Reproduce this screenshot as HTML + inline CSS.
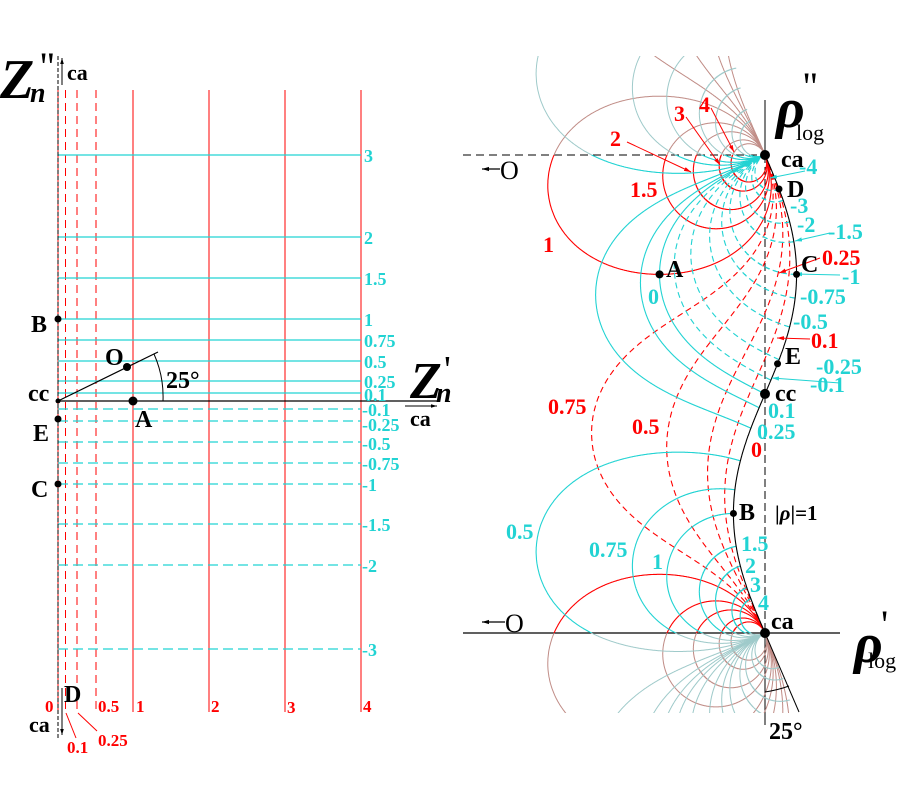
<!DOCTYPE html>
<html><head><meta charset="utf-8"><style>
html,body{margin:0;padding:0;background:#fff;width:900px;height:800px;overflow:hidden;}
svg{display:block;}
text{font-family:"Liberation Serif",serif;font-weight:bold;}
.c{fill:#22d3d3;} .r{fill:#f00;} .k{fill:#000;}
</style></head><body>
<svg id="s" width="900" height="800" viewBox="0 0 900 800" xmlns="http://www.w3.org/2000/svg">
<defs>
<clipPath id="band"><rect x="0" y="155" width="900" height="478"/></clipPath>
<clipPath id="fade"><rect x="0" y="56" width="900" height="99"/><rect x="0" y="633" width="900" height="80"/></clipPath>
<marker id="ar" viewBox="0 0 10 10" refX="10" refY="5" markerWidth="7" markerHeight="7" orient="auto"><path d="M0,2L10,5L0,8z" fill="#f00"/></marker>
<marker id="ac" viewBox="0 0 10 10" refX="10" refY="5" markerWidth="7" markerHeight="7" orient="auto"><path d="M0,2L10,5L0,8z" fill="#22d3d3"/></marker>
<marker id="ak" viewBox="0 0 10 10" refX="10" refY="5" markerWidth="6" markerHeight="6" orient="auto"><path d="M0,2L10,5L0,8z" fill="#000"/></marker>
</defs>
<g id="left">
<g stroke="#f00" stroke-width="1">
<line x1="58" y1="90" x2="58" y2="712"/>
<line x1="65.5" y1="90" x2="65.5" y2="712" stroke-dasharray="8,5"/>
<line x1="77" y1="90" x2="77" y2="712" stroke-dasharray="8,5"/>
<line x1="96" y1="90" x2="96" y2="712" stroke-dasharray="8,5"/>
<line x1="133" y1="90" x2="133" y2="712"/>
<line x1="209" y1="90" x2="209" y2="712"/>
<line x1="285" y1="90" x2="285" y2="712"/>
<line x1="361" y1="90" x2="361" y2="712"/>
</g>
<g stroke="#22d3d3" stroke-width="1.2">
<line x1="58" y1="155" x2="361" y2="155"/>
<line x1="58" y1="237" x2="361" y2="237"/>
<line x1="58" y1="278" x2="361" y2="278"/>
<line x1="58" y1="319" x2="361" y2="319"/>
<line x1="58" y1="340" x2="361" y2="340"/>
<line x1="58" y1="361" x2="361" y2="361"/>
<line x1="58" y1="381" x2="361" y2="381"/>
<line x1="58" y1="393" x2="361" y2="393"/>
<g stroke-dasharray="10,5">
<line x1="58" y1="409" x2="361" y2="409"/>
<line x1="58" y1="421" x2="361" y2="421"/>
<line x1="58" y1="442" x2="361" y2="442"/>
<line x1="58" y1="463" x2="361" y2="463"/>
<line x1="58" y1="484" x2="361" y2="484"/>
<line x1="58" y1="524" x2="361" y2="524"/>
<line x1="58" y1="565" x2="361" y2="565"/>
<line x1="58" y1="649" x2="361" y2="649"/>
</g></g>
<line x1="58" y1="56" x2="58" y2="740" stroke="#000" stroke-width="1" stroke-dasharray="4,2"/>
<line x1="58" y1="401" x2="440" y2="401" stroke="#000" stroke-width="1.2"/>
<line x1="62" y1="85" x2="62" y2="58" stroke="#000" stroke-width="1" marker-end="url(#ak)"/>
<line x1="62" y1="688" x2="62" y2="735" stroke="#000" stroke-width="1" marker-end="url(#ak)"/>
<line x1="405" y1="406" x2="437" y2="406" stroke="#000" stroke-width="1" marker-end="url(#ak)"/>
<line x1="58" y1="401" x2="158" y2="352" stroke="#000" stroke-width="1.2"/>
<path d="M154,354 A105,105 0 0 1 163,401" fill="none" stroke="#000" stroke-width="1"/>
<g fill="#000"><circle cx="58" cy="319" r="3.5"/><circle cx="58" cy="419" r="3.5"/><circle cx="58" cy="484" r="3.5"/><circle cx="58" cy="401" r="2.5"/><circle cx="127" cy="367" r="4"/><circle cx="133" cy="401" r="4.5"/></g>
<g class="c" style="font-size:18px">
<text x="364" y="162">3</text><text x="364" y="244">2</text><text x="364" y="285">1.5</text><text x="364" y="326">1</text><text x="364" y="347">0.75</text><text x="364" y="368">0.5</text><text x="364" y="388">0.25</text><text x="364" y="401">0.1</text>
<text x="362" y="416">-0.1</text><text x="362" y="431">-0.25</text><text x="362" y="450">-0.5</text><text x="362" y="470">-0.75</text><text x="362" y="491">-1</text><text x="362" y="531">-1.5</text><text x="362" y="572">-2</text><text x="362" y="656">-3</text>
</g>
<g class="r" style="font-size:17px">
<text x="45" y="712">0</text><text x="98" y="712">0.5</text><text x="136" y="712">1</text><text x="211" y="712">2</text><text x="287" y="713">3</text><text x="363" y="712">4</text>
<text x="67" y="753">0.1</text><text x="98" y="746">0.25</text>
</g>
<line x1="66" y1="713" x2="76" y2="738" stroke="#f00" stroke-width="1"/>
<line x1="78" y1="713" x2="97" y2="731" stroke="#f00" stroke-width="1"/>
<g class="k">
<text x="0" y="98" style="font-size:56px;font-style:italic">Z</text><text x="40" y="80" style="font-size:40px;font-weight:normal">''</text><text x="30" y="102" style="font-size:28px;font-style:italic">n</text>
<text x="67" y="80" style="font-size:22px">ca</text>
<text x="410" y="398" style="font-size:52px;font-style:italic">Z</text><text x="444" y="382" style="font-size:38px;font-weight:normal">'</text><text x="436" y="402" style="font-size:28px;font-style:italic">n</text>
<text x="410" y="426" style="font-size:22px">ca</text>
<text x="28" y="401" style="font-size:24px">cc</text>
<text x="31" y="332" style="font-size:24px">B</text><text x="33" y="441" style="font-size:24px">E</text><text x="31" y="497" style="font-size:24px">C</text>
<text x="105" y="365" style="font-size:24px">O</text><text x="135" y="427" style="font-size:24px">A</text>
<text x="166" y="388" style="font-size:24px">25°</text>
<text x="64" y="702" style="font-size:24px">D</text><text x="29" y="732" style="font-size:22px">ca</text>
</g>
</g>
<g id="right">
<line x1="463" y1="155" x2="765" y2="155" stroke="#000" stroke-width="1" stroke-dasharray="8,5"/>
<line x1="463" y1="633" x2="840" y2="633" stroke="#000" stroke-width="1.2"/>
<line x1="765" y1="100" x2="765" y2="155" stroke="#000" stroke-width="1"/>
<line x1="765" y1="155" x2="765" y2="633" stroke="#000" stroke-width="1" stroke-dasharray="8,4"/>
<line x1="765" y1="633" x2="765" y2="725" stroke="#000" stroke-width="1"/>
<g id="fadeg" clip-path="url(#fade)" fill="none" stroke-width="1"></g>
<g id="bandg" clip-path="url(#band)" fill="none" stroke-width="1.1"></g>
<line x1="765" y1="633" x2="799" y2="712" stroke="#000" stroke-width="1"/>
<path d="M765,692 Q778,690 789,686" fill="none" stroke="#000" stroke-width="1"/>
<line x1="500" y1="169" x2="482" y2="169" stroke="#000" stroke-width="1.2" marker-end="url(#ak)"/>
<line x1="505" y1="622" x2="482" y2="622" stroke="#000" stroke-width="1.2" marker-end="url(#ak)"/>
<g class="k"><text x="500" y="179" style="font-size:26px;font-weight:normal">O</text><text x="505" y="632" style="font-size:26px;font-weight:normal">O</text></g>
<g stroke="#f00" stroke-width="1" fill="none">
<line x1="627" y1="142" x2="691" y2="172" marker-end="url(#ar)"/>
<line x1="686" y1="117" x2="720" y2="165" marker-end="url(#ar)"/>
<line x1="711" y1="108" x2="734" y2="152" marker-end="url(#ar)"/>
<line x1="820" y1="258" x2="779" y2="273" marker-end="url(#ar)"/>
<line x1="810" y1="339" x2="777" y2="338" marker-end="url(#ar)"/>
</g>
<g stroke="#22d3d3" stroke-width="1" fill="none">
<line x1="805" y1="171" x2="770" y2="178" marker-end="url(#ac)"/>
<line x1="830" y1="233" x2="795" y2="241" marker-end="url(#ac)"/>
<line x1="840" y1="275" x2="795" y2="274" marker-end="url(#ac)"/>
<line x1="840" y1="383" x2="772" y2="378" marker-end="url(#ac)"/>
</g>
<g id="dots" fill="#000"></g>
<g class="r" style="font-size:22px">
<text x="610" y="146">2</text><text x="674" y="121">3</text><text x="699" y="112">4</text>
<text x="630" y="197">1.5</text><text x="543" y="252">1</text>
<text x="822" y="265">0.25</text><text x="811" y="348">0.1</text>
<text x="548" y="414">0.75</text><text x="632" y="434">0.5</text><text x="751" y="457">0</text>
</g>
<g class="c" style="font-size:22px">
<text x="799" y="174">-4</text><text x="790" y="213">-3</text><text x="797" y="232">-2</text><text x="828" y="239">-1.5</text>
<text x="842" y="284">-1</text><text x="800" y="304">-0.75</text><text x="793" y="329">-0.5</text><text x="816" y="374">-0.25</text><text x="810" y="392">-0.1</text>
<text x="768" y="418">0.1</text><text x="757" y="439">0.25</text><text x="648" y="304">0</text>
<text x="506" y="539">0.5</text><text x="589" y="557">0.75</text><text x="652" y="569">1</text>
<text x="741" y="551">1.5</text><text x="745" y="573">2</text><text x="750" y="592">3</text><text x="758" y="610">4</text>
</g>
<g class="k" style="font-size:24px">
<text x="781" y="167">ca</text><text x="787" y="197">D</text><text x="801" y="272">C</text><text x="666" y="277">A</text>
<text x="785" y="364">E</text><text x="775" y="401">cc</text><text x="739" y="520">B</text><text x="775" y="520" style="font-size:21px">|<tspan style="font-style:italic">ρ</tspan>|=1</text>
<text x="771" y="629">ca</text><text x="769" y="739">25°</text>
<text x="776" y="127" style="font-size:56px;font-style:italic">ρ</text><text x="803" y="100" style="font-size:40px;font-weight:normal">''</text><text x="796" y="140" style="font-size:22px;font-weight:normal">log</text>
<text x="854" y="662" style="font-size:56px;font-style:italic">ρ</text><text x="881" y="638" style="font-size:40px;font-weight:normal">'</text><text x="868" y="668" style="font-size:22px;font-weight:normal">log</text>
</g>
</g>
</svg>
<script>
(function(){
var NS="http://www.w3.org/2000/svg";
var X0=765,Y0=633,sx=70,sy=76.1,th=25*Math.PI/180,c=Math.cos(th),s=Math.sin(th),T=2*Math.PI;
function rho(a,b){var nr=a-c,ni=b-s,dr=a+c,di=b+s,d=dr*dr+di*di;var re=(nr*dr+ni*di)/d,im=(ni*dr-nr*di)/d;return [0.5*Math.log(re*re+im*im),Math.atan2(im,re)];}
function build(pts,refIdx){var out=[],prev=null;for(var i=0;i<pts.length;i++){var r=rho(pts[i][0],pts[i][1]);var a=r[1];if(prev!==null){while(a-prev>Math.PI)a-=T;while(a-prev<-Math.PI)a+=T;}prev=a;out.push([r[0],a]);}
var ref=out[refIdx][1];var sh=(((ref%T)+T)%T)-ref;for(i=0;i<out.length;i++)out[i][1]+=sh;return out;}
function d(out,k){var p="";for(var i=0;i<out.length;i++){var x=X0+sx*out[i][0],y=Y0-sy*(out[i][1]+k*T);p+=(i?"L":"M")+x.toFixed(1)+","+y.toFixed(1);}return p;}
function add(g,path,col,dash){var e=document.createElementNS(NS,"path");e.setAttribute("d",path);e.setAttribute("stroke",col);if(dash)e.setAttribute("stroke-dasharray",dash);g.appendChild(e);}
var band=document.getElementById("bandg"),fade=document.getElementById("fadeg");
var N=1600;
function redPts(r){var p=[];for(var i=1;i<N;i++){var f=-Math.PI/2+Math.PI*i/N;p.push([r,Math.tan(f)]);}return p;}
function cyPts(x){var p=[];for(var i=0;i<N;i++){var f=(Math.PI/2)*i/N;p.push([Math.tan(f),x]);}return p;}
var reds=[[0.1,1],[0.25,1],[0.5,1],[0.75,1],[1,0],[1.5,0],[2,0],[3,0],[4,0]];
var cys=[0,0.1,0.25,0.5,0.75,1,1.5,2,3,4,-0.1,-0.25,-0.5,-0.75,-1,-1.5,-2,-3,-4];
reds.forEach(function(rr){var o=build(redPts(rr[0]),Math.floor(N/2)-1);for(var k=-1;k<=1;k++){add(band,d(o,k),"#f00",rr[1]?"6,4":null);add(fade,d(o,k),"#c08c86",null);}});
cys.forEach(function(x){var o=build(cyPts(x),0);for(var k=-1;k<=1;k++){add(band,d(o,k),"#22d3d3",x<0?"6,4":null);add(fade,d(o,k),"#9fcaca",null);}});
var ob=build(redPts(0),Math.floor(N/2)-1);add(band,d(ob,0),"#000",null);
var dots=document.getElementById("dots");
function dot(a,b,rad){var r=rho(a,b),ang=((r[1]%T)+T)%T;var e=document.createElementNS(NS,"circle");e.setAttribute("cx",X0+sx*r[0]);e.setAttribute("cy",Y0-sy*ang);e.setAttribute("r",rad);dots.appendChild(e);}
dot(1,0,4);dot(0,1,3.5);dot(0,-1,3.5);dot(0,-0.22,3.5);dot(0,0,5);
[[779,189,3.5],[765,155,5],[765,633,5]].forEach(function(q){var e=document.createElementNS(NS,"circle");e.setAttribute("cx",q[0]);e.setAttribute("cy",q[1]);e.setAttribute("r",q[2]);dots.appendChild(e);});
})();
</script>
</body></html>
